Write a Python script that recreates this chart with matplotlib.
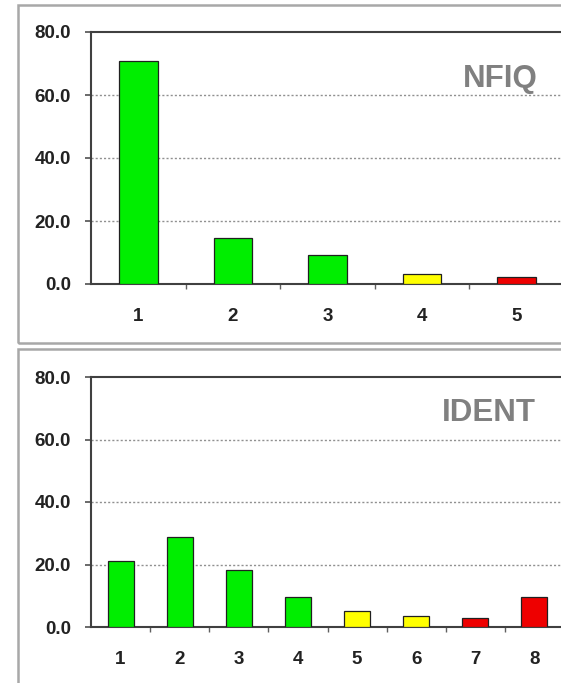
import numpy as np
import matplotlib
matplotlib.use("Agg")
import matplotlib.pyplot as plt
from matplotlib.patches import Rectangle

# data
nfiq_labels = ["1", "2", "3", "4", "5"]
nfiq_values = [70.8, 14.6, 9.2, 3.3, 2.2]
nfiq_colors = ["#00ee00", "#00ee00", "#00ee00", "#ffff00", "#ee0000"]

ident_labels = ["1", "2", "3", "4", "5", "6", "7", "8"]
ident_values = [21.2, 28.9, 18.2, 9.5, 5.1, 3.4, 2.9, 9.7]
ident_colors = ["#00ee00", "#00ee00", "#00ee00", "#00ee00",
                "#ffff00", "#ffff00", "#ee0000", "#ee0000"]

y_ticks = [0, 20, 40, 60, 80]

plt.rcParams['font.family'] = ['Liberation Sans', 'DejaVu Sans']

W, H = 561, 683
fig = plt.figure(figsize=(W / 100, H / 100), dpi=100)
fig.patch.set_facecolor("white")

# outer panel frames (pixel coords -> figure fraction)
def panel_box(x0, y0, x1, y1):
    rect = Rectangle((x0 / W, 1 - y1 / H), (x1 - x0) / W, (y1 - y0) / H,
                     transform=fig.transFigure, fill=False,
                     edgecolor="#a8a8a8", linewidth=1.8, clip_on=False)
    fig.patches.append(rect)

panel_box(18, 5, 600, 343)
panel_box(18, 349, 600, 720)


def draw_panel(rect_px, labels, values, colors, title, title_xy, bar_w):
    x0, y0, x1, y1 = rect_px
    ax = fig.add_axes([x0 / W, 1 - y1 / H, (x1 - x0) / W, (y1 - y0) / H])
    n = len(labels)
    x = np.arange(n)
    ax.bar(x, values, width=bar_w, color=colors, edgecolor="#202020",
           linewidth=0.9, zorder=3)
    ax.set_xlim(-0.5, n - 0.5)
    ax.set_ylim(0, 80)
    ax.set_yticks(y_ticks)
    ax.set_yticklabels([f"{v:.1f}" for v in y_ticks], fontsize=13.5,
                       fontweight="bold", color="#222222")
    ax.set_xticks(x)
    ax.set_xticklabels(labels, fontsize=13.5, fontweight="bold", color="#222222")
    ax.tick_params(axis="x", length=0, pad=17)
    ax.set_xticks(np.arange(0.5, n - 0.5, 1), minor=True)
    ax.tick_params(axis="x", which="minor", length=3.6, width=1, color="#606060",
                   direction="out")
    ax.tick_params(axis="y", length=4.5, width=1.2, color="#505050", pad=10)
    for v in [20, 40, 60]:
        ax.axhline(v, color="#909090", linestyle=(0, (1.5, 1.5)),
                   linewidth=1.0, zorder=1)
    for side in ["left", "bottom", "top"]:
        ax.spines[side].set_color("#404040")
        ax.spines[side].set_linewidth(1.5)
    ax.spines["right"].set_visible(False)
    ax.text(title_xy[0] / W, 1 - title_xy[1] / H, title, transform=fig.transFigure,
            fontsize=22.5, fontweight="bold", color="#808080",
            ha="right", va="center")
    return ax


draw_panel((91, 32, 564, 284), nfiq_labels, nfiq_values, nfiq_colors,
           "NFIQ", (538, 79), 0.41)
draw_panel((91, 377, 564, 627), ident_labels, ident_values, ident_colors,
           "IDENT", (536, 413), 0.44)

fig.savefig("out.png", dpi=100)
